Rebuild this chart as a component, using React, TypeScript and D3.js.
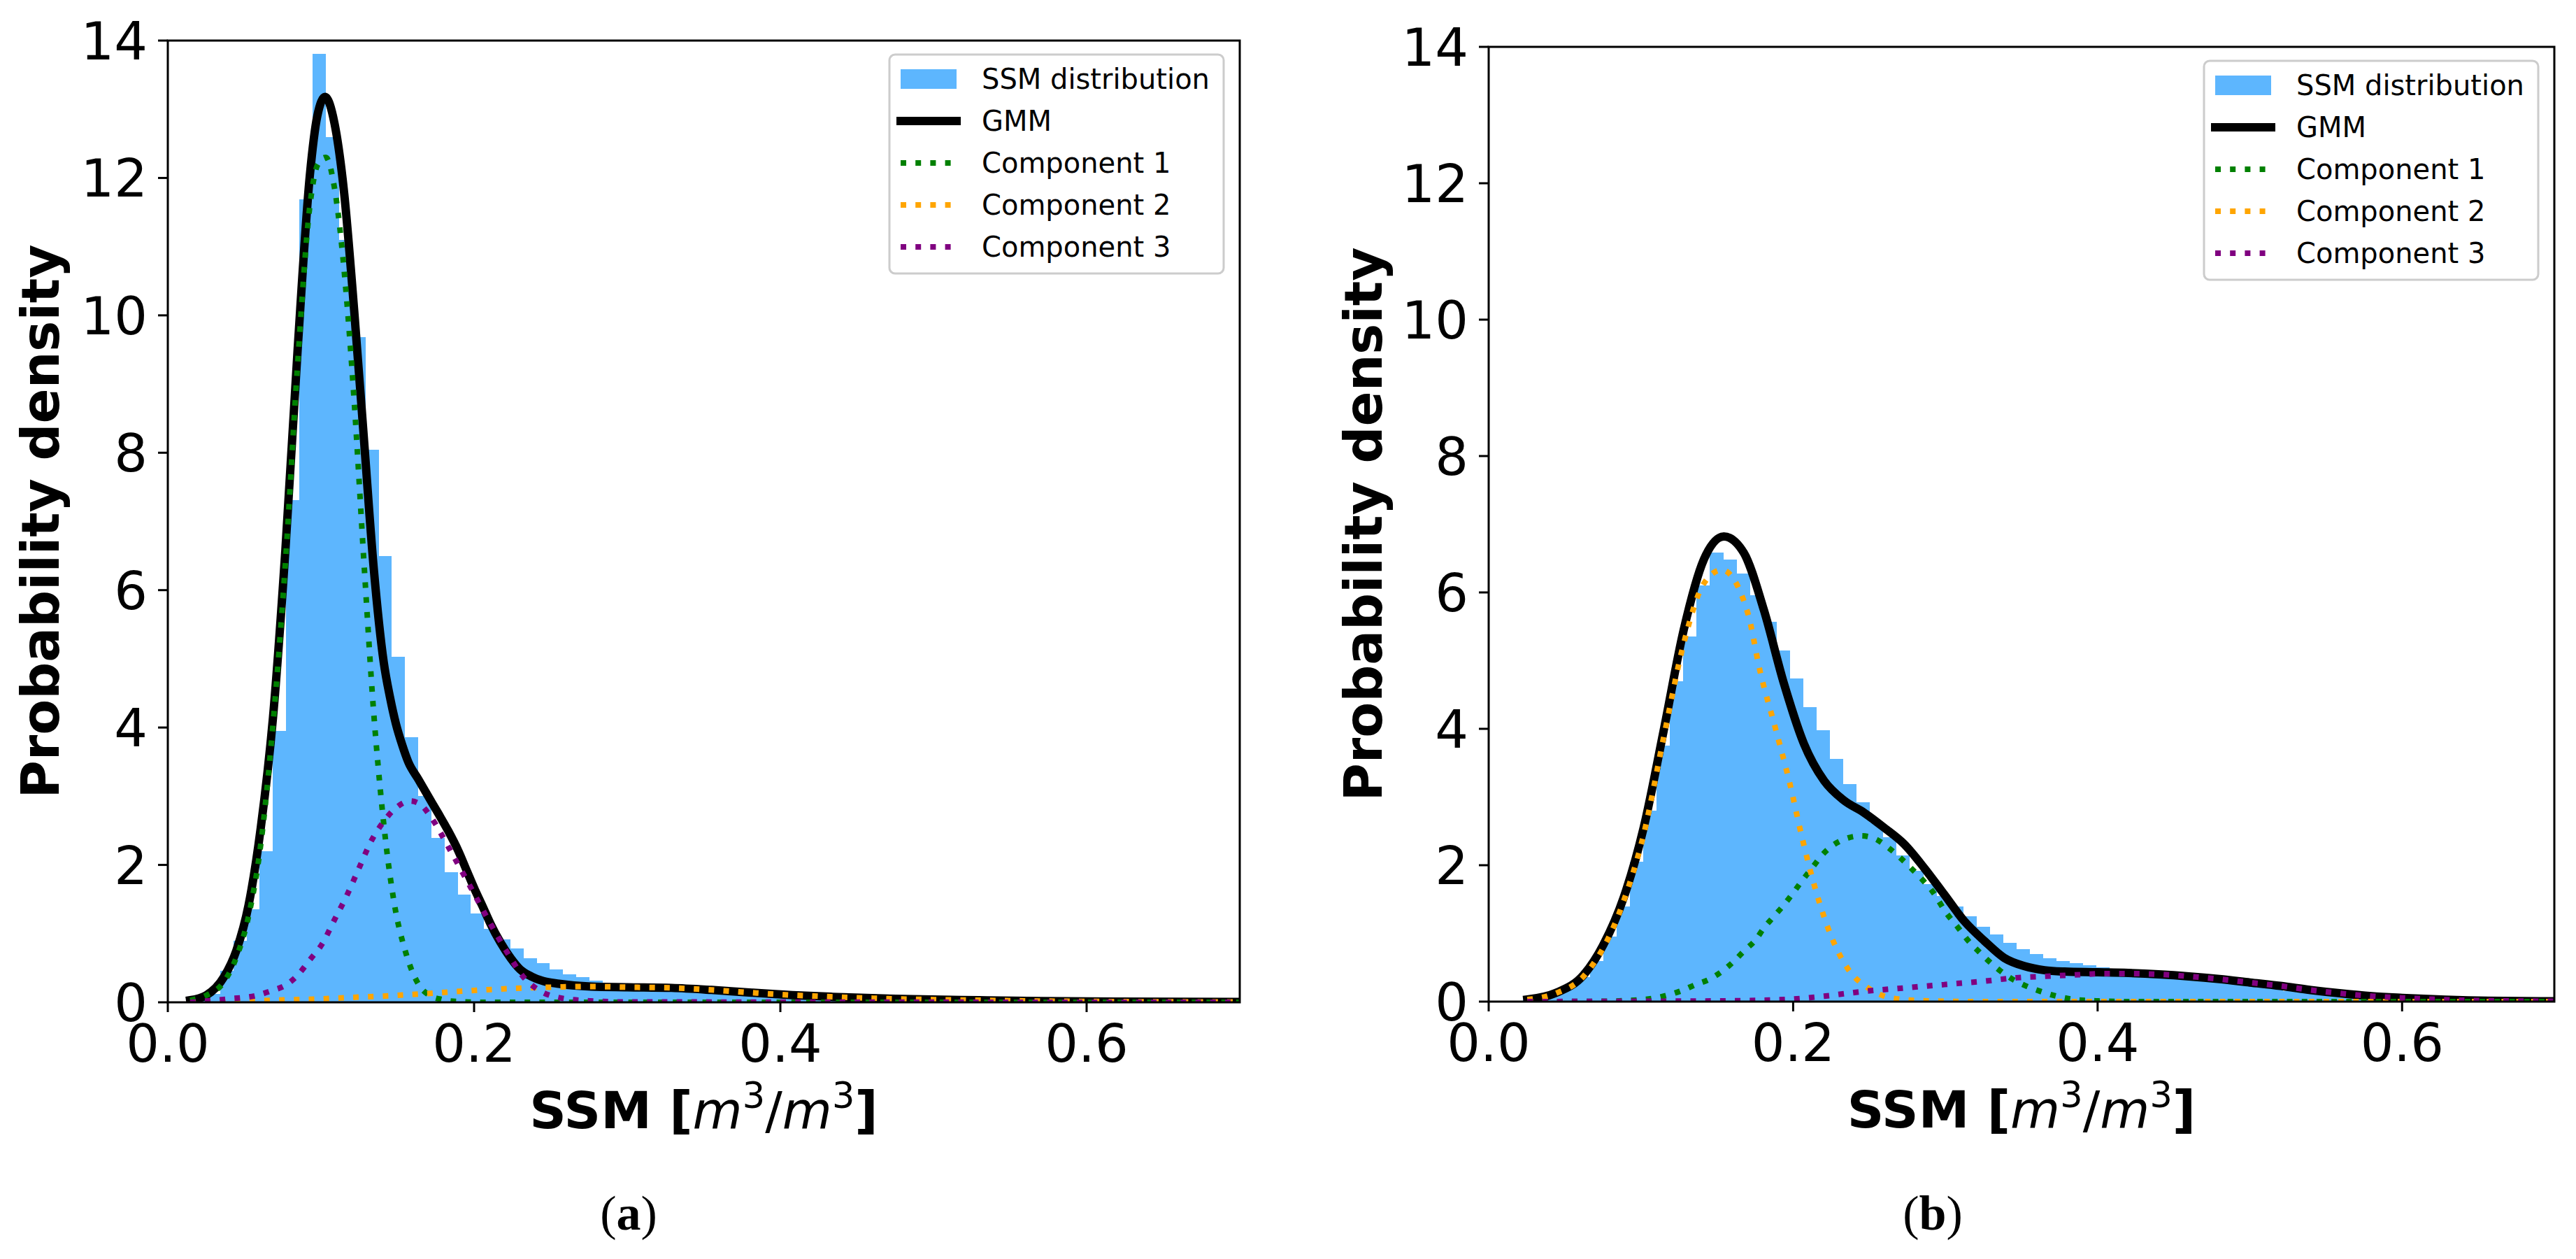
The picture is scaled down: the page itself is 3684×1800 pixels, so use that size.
import React from 'react';
import * as d3 from 'd3';

// ---------- shared axis / legend text ----------
const xTicks = [0, 0.2, 0.4, 0.6];
const yTicks = [0, 2, 4, 6, 8, 10, 12, 14];
const legendLabels = ['SSM distribution', 'GMM', 'Component 1', 'Component 2', 'Component 3'];
const xDomain: [number, number] = [0, 0.7];
const yDomain: [number, number] = [0, 14];

// ---------- panel (a) ----------
const histAStart = 0.0084;
const histAWidth = 0.0086;
const histA = [0.01, 0.03, 0.12, 0.46, 0.9, 1.35, 2.2, 3.95, 7.31, 11.69, 13.81, 12.6, 11.1, 9.68, 8.04, 6.5, 5.03, 3.86, 3.0, 2.39,
  1.89, 1.57, 1.29, 1.07, 0.92, 0.78, 0.64, 0.57, 0.48, 0.41, 0.37, 0.32, 0.28, 0.26, 0.25, 0.24, 0.23, 0.22, 0.21, 0.2,
  0.19, 0.17, 0.16, 0.15, 0.13, 0.12, 0.11, 0.1, 0.09, 0.08, 0.07, 0.065, 0.06, 0.05, 0.045, 0.04, 0.035, 0.03, 0.028, 0.025,
  0.02, 0.018, 0.016, 0.014, 0.012, 0.011, 0.01, 0.009, 0.008, 0.007, 0.007, 0.006, 0.006, 0.005, 0.005, 0.005, 0.004, 0.004, 0.003, 0.003, 0.003];

const gmmA: [number, number][] = [
  [0.0146, 0.03], [0.025, 0.1], [0.0367, 0.37], [0.0447, 0.75], [0.0527, 1.41], [0.0607, 2.54], [0.0687, 4.15], [0.0768, 6.59],
  [0.0848, 9.51], [0.0928, 12.05], [0.0976, 12.9], [0.1027, 13.18], [0.1088, 12.8], [0.1152, 11.77], [0.1217, 10.07], [0.1281, 8.19],
  [0.1345, 6.31], [0.141, 4.95], [0.145, 4.45], [0.149, 4.05], [0.153, 3.75], [0.157, 3.5], [0.1635, 3.25], [0.17, 3.0],
  [0.1766, 2.75], [0.183, 2.5], [0.1898, 2.2], [0.1955, 1.9], [0.2003, 1.65], [0.2055, 1.4], [0.2108, 1.14], [0.217, 0.88],
  [0.224, 0.64], [0.23, 0.48], [0.237, 0.38], [0.245, 0.31], [0.2554, 0.27], [0.2764, 0.23], [0.3, 0.22], [0.329, 0.21],
  [0.355, 0.18], [0.3814, 0.14], [0.4077, 0.105], [0.434, 0.08], [0.46, 0.06], [0.4864, 0.045], [0.53, 0.03], [0.57, 0.018],
  [0.62, 0.01], [0.7, 0.005]];

const comp1A: [number, number][] = [
  [0.0146, 0.03], [0.025, 0.1], [0.0367, 0.3], [0.0447, 0.65], [0.0527, 1.25], [0.0607, 2.3], [0.0687, 4.05], [0.0768, 6.4],
  [0.0848, 9.3], [0.0928, 11.6], [0.098, 12.2], [0.1032, 12.3], [0.1088, 11.86], [0.1152, 10.64], [0.1217, 8.75], [0.1281, 6.4],
  [0.1345, 4.2], [0.1375, 3.4], [0.1425, 2.3], [0.1478, 1.45], [0.1557, 0.7], [0.1635, 0.27], [0.171, 0.1], [0.179, 0.04],
  [0.19, 0.01], [0.21, 0.0], [0.7, 0.0]];

const comp2A: [number, number][] = [
  [0.0146, 0.0], [0.04, 0.01], [0.0686, 0.03], [0.1, 0.05], [0.119, 0.07], [0.145, 0.095], [0.171, 0.13], [0.198, 0.17],
  [0.224, 0.2], [0.25, 0.22], [0.2764, 0.23], [0.3, 0.22], [0.329, 0.21], [0.355, 0.18], [0.3814, 0.14], [0.4077, 0.105],
  [0.434, 0.08], [0.46, 0.06], [0.4864, 0.045], [0.53, 0.03], [0.57, 0.018], [0.62, 0.01], [0.7, 0.005]];

const comp3A: [number, number][] = [
  [0.0146, 0.0], [0.04, 0.05], [0.058, 0.1], [0.068, 0.17], [0.077, 0.25], [0.085, 0.4], [0.0928, 0.62], [0.1008, 0.85],
  [0.1088, 1.2], [0.1168, 1.55], [0.1248, 1.95], [0.1329, 2.35], [0.1409, 2.63], [0.149, 2.83], [0.1583, 2.93], [0.165, 2.88],
  [0.1714, 2.71], [0.1845, 2.21], [0.1976, 1.68], [0.2108, 1.14], [0.224, 0.64], [0.2318, 0.38], [0.242, 0.18], [0.255, 0.07],
  [0.276, 0.02], [0.3, 0.005], [0.7, 0.0]];

// ---------- panel (b) ----------
const histBStart = 0.0227;
const histBWidth = 0.00875;
const histB = [0.03, 0.07, 0.13, 0.22, 0.36, 0.6, 0.95, 1.4, 2.05, 2.8, 3.75, 4.7, 5.35, 6.1, 6.58, 6.48, 6.28, 5.96, 5.57, 5.15,
  4.74, 4.32, 3.98, 3.56, 3.19, 2.92, 2.63, 2.41, 2.14, 1.92, 1.72, 1.55, 1.4, 1.25, 1.1, 0.98, 0.86, 0.77, 0.7, 0.64,
  0.6, 0.56, 0.53, 0.5, 0.47, 0.45, 0.43, 0.41, 0.39, 0.37, 0.35, 0.32, 0.3, 0.27, 0.24, 0.21, 0.18, 0.15, 0.13, 0.11,
  0.09, 0.075, 0.06, 0.05, 0.04, 0.032, 0.025, 0.02, 0.015, 0.012, 0.01, 0.008, 0.006, 0.005, 0.004, 0.003, 0.003, 0.002];

const gmmB: [number, number][] = [
  [0.0254, 0.03], [0.0439, 0.125], [0.0623, 0.39], [0.0755, 0.84], [0.0886, 1.52], [0.1018, 2.55], [0.115, 3.98], [0.1281, 5.45],
  [0.1413, 6.48], [0.1545, 6.82], [0.1676, 6.58], [0.1808, 5.74], [0.194, 4.66], [0.2071, 3.78], [0.2203, 3.24], [0.2334, 2.95],
  [0.2466, 2.77], [0.2598, 2.55], [0.2729, 2.31], [0.2861, 1.96], [0.2993, 1.57], [0.3124, 1.18], [0.3256, 0.89], [0.3387, 0.64],
  [0.3519, 0.52], [0.3651, 0.46], [0.3782, 0.44], [0.4, 0.43], [0.42, 0.42], [0.44, 0.4], [0.46, 0.37], [0.48, 0.33],
  [0.5, 0.28], [0.52, 0.23], [0.54, 0.17], [0.56, 0.12], [0.58, 0.08], [0.6, 0.055], [0.62, 0.035], [0.65, 0.015], [0.7, 0.005]];

const comp1B: [number, number][] = [
  [0.0254, 0.0], [0.07, 0.003], [0.1018, 0.03], [0.115, 0.08], [0.1255, 0.15], [0.136, 0.25], [0.1452, 0.33], [0.1531, 0.44],
  [0.161, 0.59], [0.1676, 0.74], [0.1755, 0.91], [0.1808, 1.08], [0.1874, 1.25], [0.194, 1.42], [0.1992, 1.57], [0.2058, 1.77],
  [0.2124, 1.96], [0.2203, 2.18], [0.2334, 2.38], [0.2448, 2.43], [0.2545, 2.38], [0.2624, 2.26], [0.2703, 2.11], [0.2782, 1.94],
  [0.2848, 1.79], [0.2914, 1.62], [0.3006, 1.3], [0.3085, 1.08], [0.3151, 0.89], [0.3217, 0.74], [0.3282, 0.6], [0.3361, 0.45],
  [0.344, 0.33], [0.3519, 0.24], [0.3625, 0.15], [0.373, 0.08], [0.3835, 0.035], [0.4, 0.01], [0.42, 0.0], [0.7, 0.0]];

const comp2B: [number, number][] = [
  [0.0254, 0.03], [0.0439, 0.12], [0.0623, 0.37], [0.0886, 1.47], [0.1018, 2.45], [0.115, 3.88], [0.1281, 5.25], [0.1413, 6.13],
  [0.1531, 6.33], [0.1703, 5.69], [0.1781, 4.86], [0.1887, 3.98], [0.1979, 3.19], [0.2058, 2.41], [0.215, 1.62], [0.2255, 0.93],
  [0.236, 0.48], [0.2492, 0.2], [0.2598, 0.08], [0.2729, 0.03], [0.29, 0.01], [0.32, 0.0], [0.7, 0.0]];

const comp3B: [number, number][] = [
  [0.0254, 0.0], [0.1, 0.005], [0.15, 0.01], [0.194, 0.03], [0.2203, 0.08], [0.2466, 0.15], [0.2729, 0.2], [0.2993, 0.25],
  [0.3256, 0.3], [0.3467, 0.35], [0.365, 0.37], [0.3835, 0.39], [0.4046, 0.41], [0.4225, 0.41], [0.44, 0.4], [0.46, 0.37],
  [0.48, 0.33], [0.5, 0.28], [0.52, 0.23], [0.54, 0.17], [0.56, 0.12], [0.58, 0.08], [0.6, 0.055], [0.62, 0.035],
  [0.65, 0.015], [0.7, 0.005]];

// ---------- styles ----------
const FONT = 'DejaVu Sans';
const HIST_COLOR = '#5db6fe';
const COMP_COLORS = ['#008000', '#ffa500', '#800080'];

type PanelProps = {
  id: string;
  left: number; right: number; top: number; bottom: number;
  histStart: number; histWidth: number; hist: number[];
  gmm: [number, number][]; comps: [number, number][][];
  caption: string; captionX: number; ylabelX: number;
};

function Panel(p: PanelProps) {
  const x = d3.scaleLinear().domain(xDomain).range([p.left, p.right]);
  const y = d3.scaleLinear().domain(yDomain).range([p.bottom, p.top]);
  const line = d3.line<[number, number]>().x(d => x(d[0])).y(d => y(d[1])).curve(d3.curveMonotoneX);
  const clipId = `clip-${p.id}`;
  const lgRight = p.right - 23;
  const lgLeft = lgRight - 478;
  const lgTop = p.top + 20;
  const rowY = (i: number) => lgTop + 35 + i * 60;
  const hx0 = lgLeft + 16, hx1 = lgLeft + 96;
  const cx = (p.left + p.right) / 2;
  const cy = (p.top + p.bottom) / 2;
  return (
    <g>
      <defs>
        <clipPath id={clipId}>
          <rect x={p.left} y={p.top} width={p.right - p.left} height={p.bottom - p.top} />
        </clipPath>
      </defs>
      <g clipPath={`url(#${clipId})`}>
        {p.hist.map((v, i) => {
          const x0 = x(p.histStart + i * p.histWidth);
          const x1 = x(p.histStart + (i + 1) * p.histWidth);
          return <rect key={i} x={x0} y={y(v)} width={x1 - x0 + 0.6} height={y(0) - y(v)} fill={HIST_COLOR} shapeRendering="crispEdges" />;
        })}
        <path d={line(p.gmm) || ''} fill="none" stroke="#000" strokeWidth={12} strokeLinejoin="round" strokeLinecap="square" />
        {p.comps.map((c, i) => (
          <path key={i} d={line(c) || ''} fill="none" stroke={COMP_COLORS[i]} strokeWidth={8} strokeDasharray="8 13.2" strokeLinecap="butt" />
        ))}
      </g>
      {/* spines */}
      <rect x={p.left} y={p.top} width={p.right - p.left} height={p.bottom - p.top} fill="none" stroke="#000" strokeWidth={3} />
      {/* y ticks */}
      {yTicks.map(t => (
        <g key={`y${t}`}>
          <line x1={p.left - 14} x2={p.left} y1={y(t)} y2={y(t)} stroke="#000" strokeWidth={3} />
          <text x={p.left - 29} y={y(t) + 27} textAnchor="end" fontFamily={FONT} fontSize={75} fill="#000">{t}</text>
        </g>
      ))}
      {/* x ticks */}
      {xTicks.map(t => (
        <g key={`x${t}`}>
          <line x1={x(t)} x2={x(t)} y1={p.bottom} y2={p.bottom + 14} stroke="#000" strokeWidth={3} />
          <text x={x(t)} y={p.bottom + 85} textAnchor="middle" fontFamily={FONT} fontSize={75} fill="#000">{t.toFixed(1)}</text>
        </g>
      ))}
      {/* axis labels */}
      <text transform={`translate(${p.ylabelX},${cy}) rotate(-90)`} textAnchor="middle" fontFamily={FONT} fontSize={74} fontWeight="bold" fill="#000">Probability density</text>
      <text x={cx} y={p.bottom + 180} textAnchor="middle" fontFamily={FONT} fontSize={73} fill="#000">
        <tspan fontWeight="bold">SSM [</tspan>
        <tspan fontStyle="italic">m</tspan>
        <tspan fontSize={51} dy={-29}>3</tspan>
        <tspan dy={29}>/</tspan>
        <tspan fontStyle="italic">m</tspan>
        <tspan fontSize={51} dy={-29}>3</tspan>
        <tspan fontWeight="bold" dy={29}>]</tspan>
      </text>
      {/* legend */}
      <rect x={lgLeft} y={lgTop} width={478} height={313} rx={8} ry={8} fill="#fff" fillOpacity={0.8} stroke="#cccccc" strokeWidth={3} />
      <rect x={hx0} y={rowY(0) - 14} width={hx1 - hx0} height={28} fill={HIST_COLOR} />
      <line x1={hx0} x2={hx1} y1={rowY(1)} y2={rowY(1)} stroke="#000" strokeWidth={12} strokeLinecap="square" />
      {COMP_COLORS.map((c, i) => (
        <line key={c} x1={hx0} x2={hx1} y1={rowY(i + 2)} y2={rowY(i + 2)} stroke={c} strokeWidth={8} strokeDasharray="8 13.2" />
      ))}
      {legendLabels.map((l, i) => (
        <text key={l} x={lgLeft + 132} y={rowY(i) + 14} fontFamily={FONT} fontSize={40} fill="#000">{l}</text>
      ))}
      {/* caption */}
      <text x={p.captionX} y={1758} textAnchor="middle" fontFamily="Liberation Serif" fontSize={70} fill="#000">
        (<tspan fontWeight="bold">{p.caption}</tspan>)
      </text>
    </g>
  );
}

export default function App() {
  return (
    <svg width={3684} height={1800} style={{ position: 'absolute', left: 0, top: 0, background: '#fff' }}>
      <rect x={0} y={0} width={3684} height={1800} fill="#fff" />
      <Panel id="a" left={240} right={1773} top={58} bottom={1433}
        histStart={histAStart} histWidth={histAWidth} hist={histA}
        gmm={gmmA} comps={[comp1A, comp2A, comp3A]} caption="a" captionX={899} ylabelX={84} />
      <Panel id="b" left={2129} right={3653} top={67} bottom={1432}
        histStart={histBStart} histWidth={histBWidth} hist={histB}
        gmm={gmmB} comps={[comp1B, comp2B, comp3B]} caption="b" captionX={2764} ylabelX={1976} />
    </svg>
  );
}
